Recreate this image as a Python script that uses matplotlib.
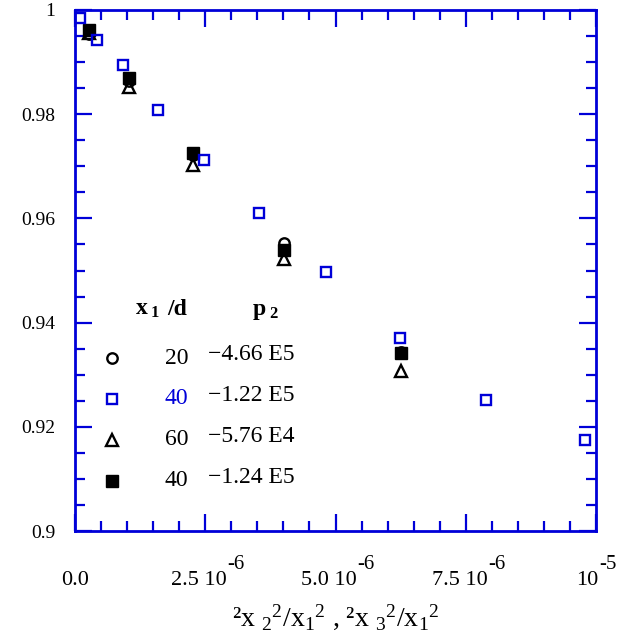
import numpy as np
import matplotlib
matplotlib.use("Agg")
import matplotlib.pyplot as plt
from matplotlib.ticker import MultipleLocator, FixedLocator, NullFormatter

plt.rcParams['font.family'] = ['Liberation Serif', 'DejaVu Serif']
plt.rcParams['mathtext.fontset'] = 'custom'
plt.rcParams['mathtext.rm'] = 'Liberation Serif'
plt.rcParams['mathtext.it'] = 'Liberation Serif:italic'
plt.rcParams['mathtext.bf'] = 'Liberation Serif:bold'

BLUE = '#0000d8'

# data
x_group = [2.6e-7, 1.03e-6, 2.26e-6, 4.01e-6, 6.26e-6]
y_circle = [0.9954, 0.9864, 0.9721, 0.9552, 0.9344]       # x1/d = 20
y_triangle = [0.9955, 0.9852, 0.9703, 0.9523, 0.9308]     # x1/d = 60
y_filled = [0.9962, 0.9869, 0.9726, 0.9539, 0.9341]       # x1/d = 40, p2 = -1.24E5

x_open_sq = [1.0e-7, 4.17e-7, 9.27e-7, 1.60e-6, 2.476e-6, 3.537e-6,
             4.818e-6, 6.238e-6, 7.889e-6, 9.789e-6]
y_open_sq = [0.9985, 0.9942, 0.9894, 0.9809, 0.9712, 0.9610,
             0.9497, 0.9370, 0.9251, 0.9175]              # x1/d = 40, p2 = -1.22E5

xtick_vals = [0, 2.5e-6, 5e-6, 7.5e-6, 1e-5]
xtick_main = ['0.0', '2.5 10', '5.0 10', '7.5 10', '10']
xtick_exp = ['', '-6', '-6', '-6', '-5']
ytick_vals = [0.9, 0.92, 0.94, 0.96, 0.98, 1.0]
ytick_labels = ['0.9', '0.92', '0.94', '0.96', '0.98', '1']

legend_x1d = ['20', '40', '60', '40']
legend_p2 = ['\u22124.66 E5', '\u22121.22 E5', '\u22125.76 E4', '\u22121.24 E5']

fig = plt.figure(figsize=(6.2, 6.37), dpi=100)
ax = fig.add_axes([75 / 620, 1 - 531 / 637, 521 / 620, 521 / 637])

ax.plot(x_group, y_circle, 'o', mfc='none', mec='black', mew=1.7, ms=7.5)
ax.plot(x_group, y_triangle, '^', mfc='none', mec='black', mew=1.7, ms=8)
ax.plot(x_group, y_filled, 's', mfc='black', mec='black', mew=1, ms=8.5)
ax.plot(x_open_sq, y_open_sq, 's', mfc='none', mec=BLUE, mew=1.7, ms=7.3)

ax.set_xlim(0, 1e-5)
ax.set_ylim(0.9, 1.0)

ax.xaxis.set_major_locator(FixedLocator(xtick_vals))
ax.xaxis.set_major_formatter(NullFormatter())
ax.xaxis.set_minor_locator(MultipleLocator(0.5e-6))
ax.yaxis.set_major_locator(FixedLocator(ytick_vals))
ax.set_yticklabels(ytick_labels)
ax.yaxis.set_minor_locator(MultipleLocator(0.005))

for s in ax.spines.values():
    s.set_color(BLUE)
    s.set_linewidth(2)
ax.tick_params(which='both', direction='in', top=True, right=True,
               color=BLUE, width=1.6, labelcolor='black')
ax.tick_params(axis='y', which='both', pad=14, labelsize=14)
ax.tick_params(which='major', length=12)
ax.tick_params(which='minor', length=7)

# x tick labels: mantissa plus a raised, nearly full-size exponent
xfs = 16
for xv, m, e in zip(xtick_vals, xtick_main, xtick_exp):
    if not e:
        ax.annotate(m, xy=(xv, 0), xycoords=('data', 'axes fraction'),
                    xytext=(0, -39), textcoords='offset points',
                    ha='center', va='baseline', fontsize=xfs)
        continue
    split = 15.5 if m != '10' else 1.5
    ax.annotate(m, xy=(xv, 0), xycoords=('data', 'axes fraction'),
                xytext=(split, -39), textcoords='offset points',
                ha='right', va='baseline', fontsize=xfs)
    ax.annotate(e, xy=(xv, 0), xycoords=('data', 'axes fraction'),
                xytext=(split + 0.5, -27.5), textcoords='offset points',
                ha='left', va='baseline', fontsize=15)

ax.set_xlabel(r'²x $_{2}$$^{2}$/x$_{1}$$^{2}$ , ²x $_{3}$$^{2}$/x$_{1}$$^{2}$',
              fontsize=20, labelpad=48)

# legend table
fs = 17
ax.text(0.115, 0.415, r'$\mathbf{x}_{\ \mathbf{1}}$', transform=ax.transAxes,
        fontsize=fs, va='baseline', ha='left')
ax.text(0.177, 0.415, '/d', transform=ax.transAxes, fontsize=fs,
        fontweight='bold', va='baseline', ha='left')
ax.text(0.34, 0.415, r'$\mathbf{p}_{\ \mathbf{2}}$', transform=ax.transAxes,
        fontsize=fs, va='baseline', ha='left')

row_y = [0.332, 0.2534, 0.1747, 0.096]
key_styles = [
    dict(marker='o', mfc='none', mec='black', mew=1.7, ms=7.5),
    dict(marker='s', mfc='none', mec=BLUE, mew=1.7, ms=7.3),
    dict(marker='^', mfc='none', mec='black', mew=1.7, ms=8),
    dict(marker='s', mfc='black', mec='black', mew=1, ms=8.5),
]
num_colors = ['black', BLUE, 'black', 'black']
for yy, st, a, b, c in zip(row_y, key_styles, legend_x1d, legend_p2, num_colors):
    ax.plot([0.0704], [yy], transform=ax.transAxes, linestyle='none', **st)
    ax.text(0.217, yy, a, transform=ax.transAxes, fontsize=fs, color=c,
            ha='right', va='center')
    ax.text(0.255, yy + 0.006, b, transform=ax.transAxes, fontsize=fs,
            ha='left', va='center')

fig.savefig('out.png', dpi=100)
